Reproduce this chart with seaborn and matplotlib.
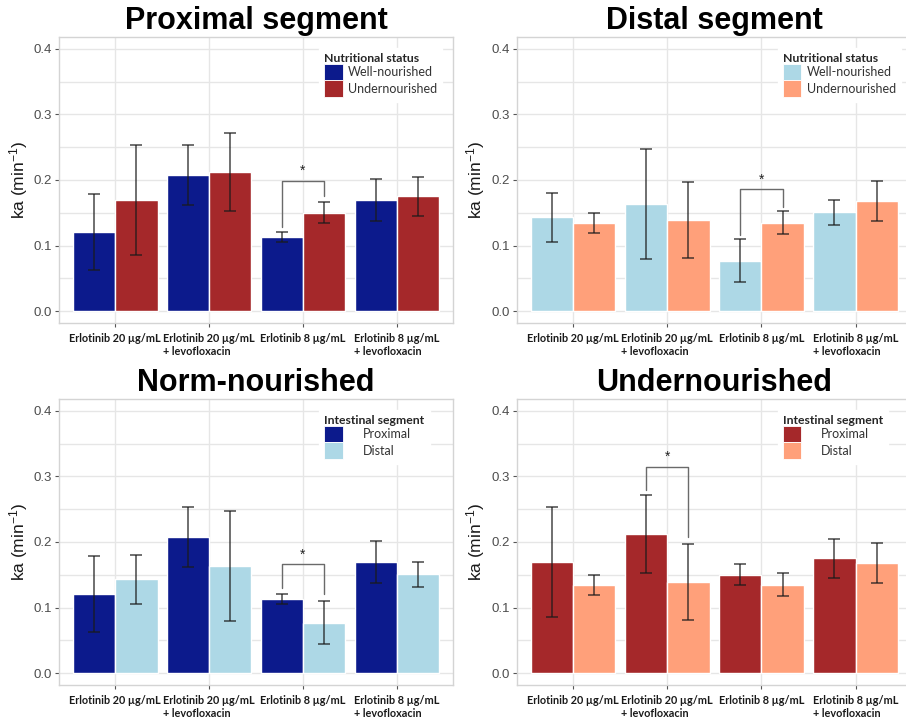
import matplotlib
matplotlib.use("Agg")
import matplotlib.pyplot as plt
from matplotlib.patches import Patch
from matplotlib.ticker import MultipleLocator
import seaborn as sns
import pandas as pd

# ---------------- data ----------------
categories = ["Erlotinib 20 µg/mL", "Erlotinib 20 µg/mL\n+ levofloxacin",
              "Erlotinib 8 µg/mL", "Erlotinib 8 µg/mL\n+ levofloxacin"]

prox_wn = [0.121, 0.208, 0.113, 0.170]
prox_wn_err = [0.058, 0.046, 0.007, 0.032]
prox_un = [0.170, 0.212, 0.150, 0.175]
prox_un_err = [0.084, 0.059, 0.016, 0.030]
dist_wn = [0.143, 0.164, 0.077, 0.151]
dist_wn_err = [0.037, 0.084, 0.033, 0.019]
dist_un = [0.134, 0.139, 0.135, 0.168]
dist_un_err = [0.015, 0.058, 0.018, 0.030]

nutri_levels = ["Well-nourished", "Undernourished"]
segment_levels = ["Proximal", "Distal"]

# significance brackets: (category index, top y, left leg end, right leg end)
sig_prox = (2, 0.199, 0.129, 0.175)
sig_dist = (2, 0.186, 0.116, 0.159)
sig_norm = (2, 0.166, 0.130, 0.120)
sig_under = (1, 0.3145, 0.280, 0.2075)

C_NAVY = "#0c1a8c"
C_RED = "#a5282a"
C_LBLUE = "#add8e6"
C_SALMON = "#ffa07a"

sns.set_theme(style="white")
plt.rcParams["font.family"] = ["Liberation Sans", "DejaVu Sans"]
plt.rcParams["mathtext.default"] = "regular"

fig = plt.figure(figsize=(9.06, 7.24), dpi=100)
W, H = 906.0, 724.0


def make_ax(l, r, t, b):
    return fig.add_axes([l / W, 1 - b / H, (r - l) / W, (b - t) / H])


def panel(ax, title, leg_title, levels, v1, e1, v2, e2, colors, sig, textpad):
    df = pd.DataFrame({
        "cat": categories * 2,
        "val": v1 + v2,
        "grp": [levels[0]] * 4 + [levels[1]] * 4,
    })
    sns.barplot(data=df, x="cat", y="val", hue="grp", hue_order=levels,
                order=categories, palette=colors, width=0.9, errorbar=None,
                saturation=1, legend=False, ax=ax, zorder=2)
    errs = [e1, e2]
    vals = [v1, v2]
    centers = []
    for k, cont in enumerate(ax.containers[:2]):
        xs = [b.get_x() + b.get_width() / 2 for b in cont]
        centers.append(xs)
        ax.errorbar(xs, vals[k], yerr=errs[k], fmt="none", ecolor="#1a1a1a",
                    elinewidth=1.1, capsize=4.5, capthick=1.1, alpha=0.8,
                    zorder=4)
    # significance bracket
    ci, ytop, yl, yr = sig
    x1, x2 = centers[0][ci], centers[1][ci]
    ax.plot([x1, x1, x2, x2], [yl, ytop, ytop, yr], color="#6a6a6a",
            lw=1.0, zorder=5)
    ax.text((x1 + x2) / 2, ytop + 0.004, "*", ha="center", va="bottom",
            fontsize=10, color="#222222", zorder=6)

    ax.set_xlim(-0.6, 3.6)
    ax.set_ylim(-0.018, 0.418)
    ax.yaxis.set_major_locator(MultipleLocator(0.1))
    ax.yaxis.set_minor_locator(MultipleLocator(0.05))
    ax.set_yticks([0.0, 0.1, 0.2, 0.3, 0.4])
    ax.set_yticklabels(["0.0", "0.1", "0.2", "0.3", "0.4"])
    ax.grid(True, which="major", axis="both", color="#e6e6e6", lw=1.0, zorder=0)
    ax.grid(True, which="minor", axis="y", color="#e6e6e6", lw=1.0, zorder=0)
    ax.set_axisbelow(True)
    for s in ax.spines.values():
        s.set_color("#d4d4d4")
        s.set_linewidth(1.0)
    ax.tick_params(axis="both", which="major", length=3, width=0.8,
                   color="#555555", bottom=True, left=True)
    ax.tick_params(axis="y", which="minor", length=0)
    ax.tick_params(axis="y", labelsize=9.5, labelcolor="#4d4d4d", pad=2)
    ax.tick_params(axis="x", pad=4)
    ax.set_xticks(range(4))
    ax.set_xticklabels(categories)
    for lab in ax.get_xticklabels():
        lab.set_fontfamily(["Lato", "DejaVu Sans"])
        lab.set_fontweight("bold")
        lab.set_fontsize(7.8)
        lab.set_color("#1a1a1a")
        lab.set_multialignment("left")
    ax.set_xlabel("")
    ax.set_ylabel("ka (min$^{-1}$)", fontsize=12.5, color="#1a1a1a")
    ax.yaxis.set_label_coords(-0.074, 0.5)
    ax.set_title(title, fontsize=22, fontweight="bold", color="black", pad=6)

    handles = [Patch(facecolor=colors[0], edgecolor="white", lw=0.6),
               Patch(facecolor=colors[1], edgecolor="white", lw=0.6)]
    leg = ax.legend(handles, levels, title=leg_title, loc="upper left",
                    bbox_to_anchor=(0.645, 0.985), frameon=True,
                    facecolor="white", edgecolor="white", framealpha=1,
                    handlelength=1.45, handleheight=1.7, labelspacing=0.0,
                    handletextpad=textpad, borderpad=0.4, fancybox=False,
                    prop={"family": ["Lato", "DejaVu Sans"], "size": 9},
                    title_fontproperties={"family": ["Lato", "DejaVu Sans"],
                                          "weight": "bold", "size": 8.8},
                    alignment="left")
    for t in leg.get_texts():
        t.set_color("#333333")
    leg.set_zorder(3)


ax1 = make_ax(59, 453, 37, 323)
panel(ax1, "Proximal segment", "Nutritional status", nutri_levels,
      prox_wn, prox_wn_err, prox_un, prox_un_err, [C_NAVY, C_RED], sig_prox, 0.45)

ax2 = make_ax(516.5, 912, 37, 323)
panel(ax2, "Distal segment", "Nutritional status", nutri_levels,
      dist_wn, dist_wn_err, dist_un, dist_un_err, [C_LBLUE, C_SALMON], sig_dist, 0.45)

ax3 = make_ax(59, 453, 399, 685)
panel(ax3, "Norm-nourished", "Intestinal segment", segment_levels,
      prox_wn, prox_wn_err, dist_wn, dist_wn_err, [C_NAVY, C_LBLUE], sig_norm, 1.6)

ax4 = make_ax(516.5, 912, 399, 685)
panel(ax4, "Undernourished", "Intestinal segment", segment_levels,
      prox_un, prox_un_err, dist_un, dist_un_err, [C_RED, C_SALMON], sig_under, 1.6)

fig.savefig("out.png", dpi=100, facecolor="white")
